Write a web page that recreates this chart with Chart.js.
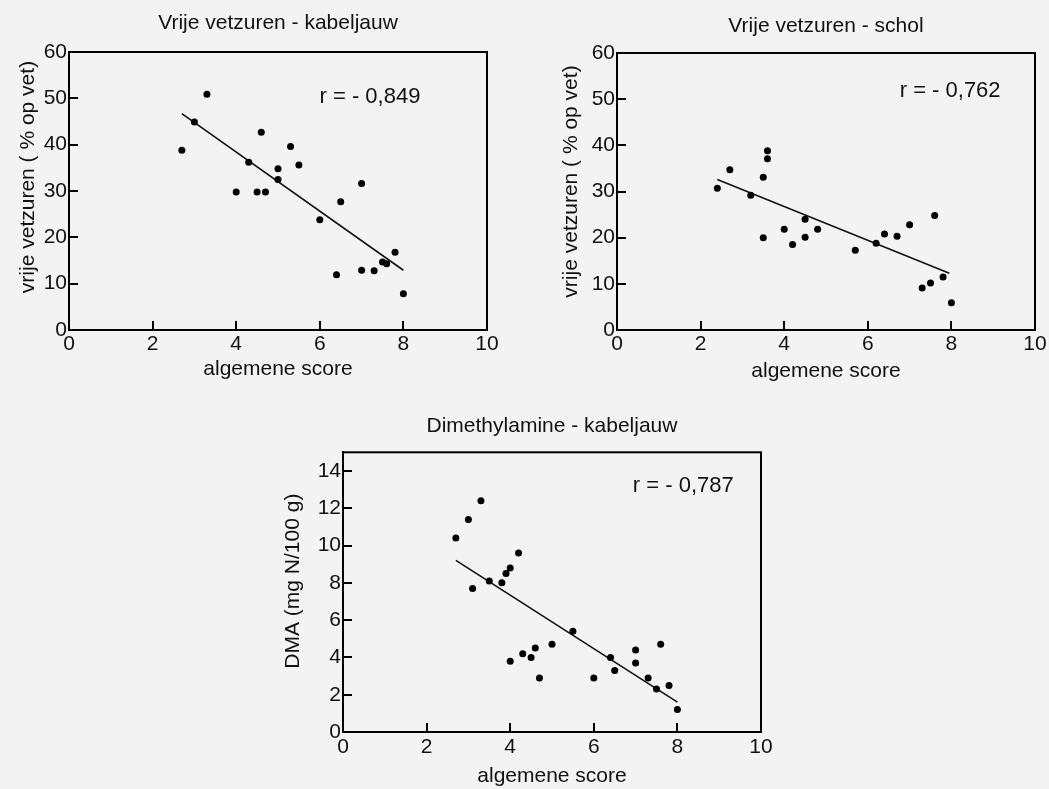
<!DOCTYPE html>
<html>
<head>
<meta charset="utf-8">
<script src="https://cdn.jsdelivr.net/npm/chart.js@4/dist/chart.umd.min.js"></script>
<style>
  html, body { margin: 0; padding: 0; background: #f3f3f3; width: 1049px; height: 789px; overflow: hidden; }
  .box { position: absolute; }
  canvas { display: block; }
</style>
</head>
<body>
<div class="box" style="left:0px;top:0px;"><canvas id="c1" width="500" height="390" style="width:500px;height:390px"></canvas></div>
<div class="box" style="left:548px;top:0px;"><canvas id="c2" width="500" height="390" style="width:500px;height:390px"></canvas></div>
<div class="box" style="left:274px;top:400px;"><canvas id="c3" width="500" height="389" style="width:500px;height:389px"></canvas></div>
<script>
// ---------- data ----------
const xTickValues = [0, 2, 4, 6, 8, 10];
const yTickValuesVvz = [0, 10, 20, 30, 40, 50, 60];
const yTickValuesDma = [0, 2, 4, 6, 8, 10, 12, 14];

// Vrije vetzuren - kabeljauw
const kabX = [2.7, 3.0, 3.3, 4.0, 4.3, 4.5, 4.6, 4.7, 5.0, 5.0, 5.3, 5.5, 6.0, 6.4, 6.5, 7.0, 7.0, 7.3, 7.5, 7.6, 7.8, 8.0];
const kabY = [38.8, 44.9, 50.9, 29.8, 36.2, 29.8, 42.7, 29.8, 34.8, 32.5, 39.6, 35.6, 23.8, 11.9, 27.7, 31.6, 12.9, 12.8, 14.7, 14.3, 16.8, 7.8];
const kabFitX = [2.7, 8.0];
const kabFitY = [46.7, 12.9];

// Vrije vetzuren - schol
const scholX = [2.4, 2.7, 3.2, 3.5, 3.5, 3.6, 3.6, 4.0, 4.2, 4.5, 4.5, 4.8, 5.7, 6.2, 6.4, 6.7, 7.0, 7.3, 7.5, 7.6, 7.8, 8.0];
const scholY = [30.7, 34.7, 29.2, 33.1, 20.0, 38.8, 37.1, 21.8, 18.5, 24.0, 20.1, 21.8, 17.3, 18.8, 20.8, 20.3, 22.8, 9.1, 10.2, 24.8, 11.5, 5.9];
const scholFitX = [2.4, 7.95];
const scholFitY = [32.6, 12.3];

// Dimethylamine - kabeljauw
const dmaX = [2.7, 3.0, 3.1, 3.3, 3.5, 3.8, 3.9, 4.0, 4.0, 4.2, 4.3, 4.5, 4.6, 4.7, 5.0, 5.5, 6.0, 6.4, 6.5, 7.0, 7.0, 7.3, 7.5, 7.6, 7.8, 8.0];
const dmaY = [10.4, 11.4, 7.7, 12.4, 8.1, 8.0, 8.5, 8.8, 3.8, 9.6, 4.2, 4.0, 4.5, 2.9, 4.7, 5.4, 2.9, 4.0, 3.3, 4.4, 3.7, 2.9, 2.3, 4.7, 2.5, 1.2];
const dmaFitX = [2.7, 8.0];
const dmaFitY = [9.2, 1.6];

const titles = ['Vrije vetzuren - kabeljauw', 'Vrije vetzuren - schol', 'Dimethylamine - kabeljauw'];
const xTitle = 'algemene score';
const yTitles = ['vrije vetzuren ( % op vet)', 'vrije vetzuren ( % op vet)', 'DMA (mg N/100 g)'];
const rLabels = ['r = - 0,849', 'r = - 0,762', 'r = - 0,787'];
const rLabelAt = [[7.2, 50.4], [7.97, 51.7], [8.14, 13.2]];

// ---------- rendering ----------
const FONT = '"Liberation Sans", Arial, Helvetica, sans-serif';
const INK = '#111';
Chart.defaults.font.family = FONT;
Chart.defaults.color = INK;

const TICK_LEN = 9;

const framePlugin = {
  id: 'frame',
  afterDraw(chart) {
    const { ctx, chartArea: a, scales } = chart;
    ctx.save();
    ctx.strokeStyle = '#000';
    ctx.lineWidth = 2;
    ctx.strokeRect(a.left, a.top, a.right - a.left, a.bottom - a.top);
    ctx.beginPath();
    scales.x.ticks.forEach(t => {
      const px = Math.round(scales.x.getPixelForValue(t.value));
      ctx.moveTo(px, a.bottom);
      ctx.lineTo(px, a.bottom - TICK_LEN);
    });
    scales.y.ticks.forEach(t => {
      const py = Math.round(scales.y.getPixelForValue(t.value));
      ctx.moveTo(a.left, py);
      ctx.lineTo(a.left + TICK_LEN, py);
    });
    ctx.stroke();
    ctx.restore();
  }
};

const textPlugin = {
  id: 'texts',
  afterDraw(chart, args, o) {
    const { ctx, chartArea: a, scales } = chart;
    ctx.save();
    ctx.fillStyle = INK;
    ctx.font = o.yFont + 'px ' + FONT;
    ctx.textAlign = 'center';
    ctx.textBaseline = 'middle';
    ctx.translate(a.left - o.yDx, (a.top + a.bottom) / 2 + o.yDy);
    ctx.rotate(-Math.PI / 2);
    ctx.fillText(o.yText, 0, 0);
    ctx.restore();
    ctx.save();
    ctx.fillStyle = INK;
    ctx.font = o.rFont + 'px ' + FONT;
    ctx.textAlign = 'center';
    ctx.textBaseline = 'middle';
    ctx.fillText(o.rText, scales.x.getPixelForValue(o.rAt[0]), scales.y.getPixelForValue(o.rAt[1]));
    ctx.restore();
  }
};

function makeChart(id, p) {
  const pts = p.xs.map((x, i) => ({ x: x, y: p.ys[i] }));
  const fit = p.fx.map((x, i) => ({ x: x, y: p.fy[i] }));
  return new Chart(document.getElementById(id), {
    type: 'scatter',
    data: {
      datasets: [
        { type: 'line', data: fit, borderColor: '#111', borderWidth: 1.6, pointRadius: 0, fill: false, tension: 0, order: 2 },
        { type: 'scatter', data: pts, backgroundColor: '#000', borderWidth: 0, pointRadius: 3.5, order: 1 }
      ]
    },
    options: {
      responsive: false,
      animation: false,
      events: [],
      layout: { padding: { left: 0, right: p.padRight, top: 0, bottom: 0 } },
      plugins: {
        legend: { display: false },
        tooltip: { enabled: false },
        title: {
          display: true, text: p.title, fullSize: false, color: INK,
          font: { size: 21, weight: 'normal' },
          padding: { top: p.tTop, bottom: p.tBottom }
        },
        texts: { yText: p.yTitle, yFont: 21, yDx: p.yDx, yDy: p.yDy, rText: p.rText, rAt: p.rAt, rFont: 22 }
      },
      scales: {
        x: {
          type: 'linear', min: 0, max: 10,
          afterBuildTicks: s => { s.ticks = xTickValues.map(v => ({ value: v })); },
          afterFit: s => { s.height = p.xHeight; s.paddingLeft = 0; s.paddingRight = 0; },
          grid: { display: false, drawOnChartArea: false, drawTicks: true, tickLength: -9 },
          border: { display: true, color: '#000', width: 2 },
          ticks: { font: { size: 21 }, color: INK, padding: p.xTickPad, maxRotation: 0, autoSkip: false },
          title: { display: true, text: xTitle, color: INK, font: { size: 21 }, padding: { top: 0, bottom: p.xTitlePad } }
        },
        y: {
          type: 'linear', min: 0, max: p.yMax,
          afterBuildTicks: s => { s.ticks = p.yTicks.map(v => ({ value: v })); },
          afterFit: s => { s.width = p.yWidth; s.paddingTop = 0; s.paddingBottom = 0; },
          grid: { display: false, drawOnChartArea: false, drawTicks: true, tickLength: -9 },
          border: { display: true, color: '#000', width: 2 },
          ticks: { font: { size: 21 }, color: INK, padding: 11, autoSkip: false }
        }
      }
    },
    plugins: [framePlugin, textPlugin]
  });
}

makeChart('c1', {
  xs: kabX, ys: kabY, fx: kabFitX, fy: kabFitY, title: titles[0], yTitle: yTitles[0],
  rText: rLabels[0], rAt: rLabelAt[0], yMax: 60, yTicks: yTickValuesVvz,
  padRight: 13, yWidth: 69, tTop: 11, tBottom: 15.8, xHeight: 60, xTickPad: 11, xTitlePad: 8, yDx: 41, yDy: -14
});
makeChart('c2', {
  xs: scholX, ys: scholY, fx: scholFitX, fy: scholFitY, title: titles[1], yTitle: yTitles[1],
  rText: rLabels[1], rAt: rLabelAt[1], yMax: 60, yTicks: yTickValuesVvz,
  padRight: 13, yWidth: 69, tTop: 14, tBottom: 13.8, xHeight: 60, xTickPad: 11, xTitlePad: 6, yDx: 45.6, yDy: -10
});
makeChart('c3', {
  xs: dmaX, ys: dmaY, fx: dmaFitX, fy: dmaFitY, title: titles[2], yTitle: yTitles[2],
  rText: rLabels[2], rAt: rLabelAt[2], yMax: 15, yTicks: yTickValuesDma,
  padRight: 13, yWidth: 69, tTop: 14, tBottom: 13.1, xHeight: 57, xTickPad: 12, xTitlePad: 0, yDx: 50, yDy: -11
});
</script>
</body>
</html>
